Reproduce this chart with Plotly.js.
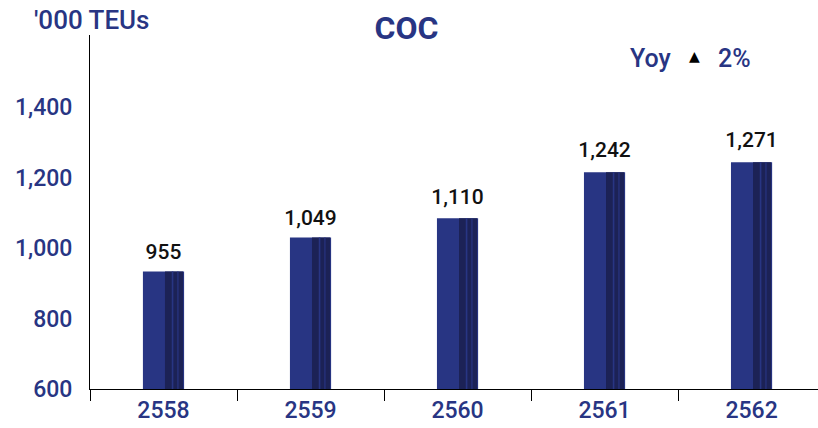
<!DOCTYPE html>
<html>
<head>
<meta charset="utf-8">
<script src="https://cdn.plot.ly/plotly-3.0.1.min.js"></script>
<style>html,body{margin:0;padding:0;background:#fff;}#chart{width:818px;height:428px;}</style>
</head>
<body>
<div id="chart"></div>
<script>
// Data
const years = ['2558', '2559', '2560', '2561', '2562'];
const barHeights = [933, 1030, 1084, 1215, 1243];     // bar tops as drawn in the picture
const labelValues = [955, 1049, 1110, 1242, 1271];    // printed value labels
const labelText = ['955', '1,049', '1,110', '1,242', '1,271'];
const yTickVals = [600, 800, 1000, 1200, 1400];
const yTickText = ['600', '800', '1,000', '1,200', '1,400'];

const navy = '#283583';
const dark = '#1c2256';
const font = 'Roboto, "DejaVu Sans", sans-serif';

const traces = [
  {type: 'bar', x: years, y: barHeights, width: 0.28, offset: -0.14,
   marker: {color: navy, line: {width: 0}}, hoverinfo: 'skip'},
  {type: 'bar', x: years, y: barHeights, width: 0.123, offset: 0.01,
   marker: {color: dark, line: {width: 0}}, hoverinfo: 'skip'},
  {type: 'bar', x: years, y: barHeights, width: 0.011, offset: 0.056,
   marker: {color: navy, line: {width: 0}}, hoverinfo: 'skip'},
  {type: 'bar', x: years, y: barHeights, width: 0.008, offset: 0.094,
   marker: {color: navy, line: {width: 0}}, hoverinfo: 'skip'},
  {type: 'scatter', mode: 'text', x: years, y: labelValues, text: labelText,
   textposition: 'top center', cliponaxis: false,
   textfont: {family: font, size: 21, color: '#111111', weight: 500}, hoverinfo: 'skip'}
];

const layout = {
  width: 818, height: 428,
  margin: {l: 90, r: 0, t: 35, b: 39},
  paper_bgcolor: '#ffffff', plot_bgcolor: '#ffffff',
  showlegend: false,
  barmode: 'overlay',
  title: {text: 'COC', x: 0.497, xanchor: 'center', y: 0.935, yanchor: 'middle',
          font: {family: font, size: 32, color: navy, weight: 700}},
  xaxis: {type: 'category', range: [-0.5, 4.452], showgrid: false, zeroline: false,
          showline: true, linecolor: '#000', linewidth: 1,
          ticks: 'outside', tickson: 'boundaries', ticklen: 11, tickcolor: '#000', tickwidth: 1,
          tickfont: {family: font, size: 23, color: navy, weight: 500}, fixedrange: true},
  yaxis: {range: [600, 1604], showgrid: false, zeroline: false,
          showline: true, linecolor: '#000', linewidth: 1, ticks: '',
          tickvals: yTickVals, ticktext: yTickText, ticklabelstandoff: 12,
          tickfont: {family: font, size: 23, color: navy, weight: 500}, fixedrange: true},
  annotations: [
    {text: "'000 TEUs", xref: 'paper', yref: 'paper', x: -0.079, y: 1.042,
     xanchor: 'left', yanchor: 'middle', showarrow: false,
     font: {family: font, size: 26, color: navy, weight: 500}},
    {text: "Yoy", xref: 'paper', yref: 'paper', x: 0.7706, y: 0.935,
     xanchor: 'center', yanchor: 'middle', showarrow: false,
     font: {family: font, size: 25, color: navy, weight: 500}},
    {text: "▲", xref: 'paper', yref: 'paper', x: 0.8297, y: 0.94,
     xanchor: 'center', yanchor: 'middle', showarrow: false,
     font: {family: font, size: 14, color: '#000000'}},
    {text: "2%", xref: 'paper', yref: 'paper', x: 0.8853, y: 0.935,
     xanchor: 'center', yanchor: 'middle', showarrow: false,
     font: {family: font, size: 25, color: navy, weight: 500}}
  ]
};

Plotly.newPlot('chart', traces, layout, {displayModeBar: false, staticPlot: true});
</script>
</body>
</html>
